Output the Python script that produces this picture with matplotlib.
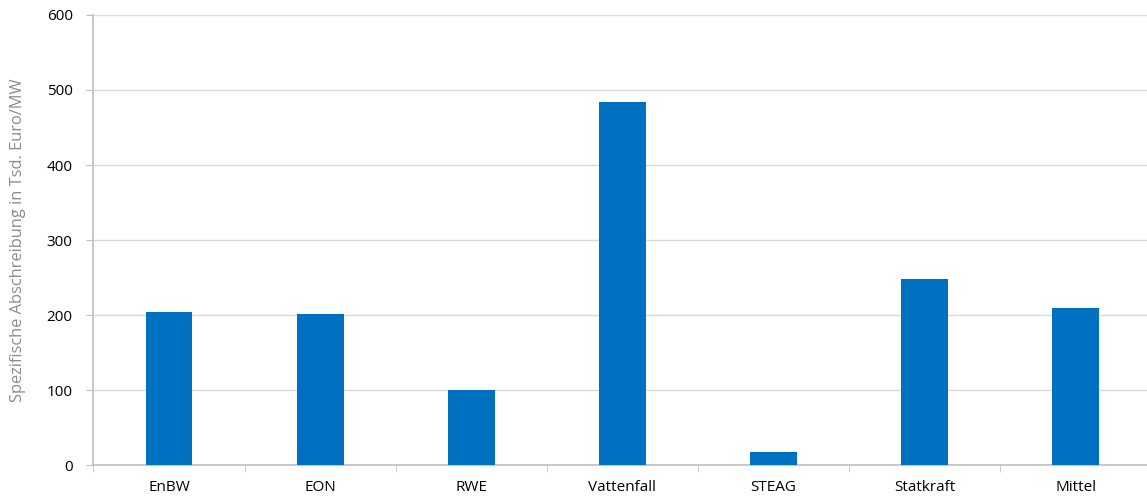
import numpy as np
from matplotlib import pyplot as plt

# values
companies = ["EnBW", "EON", "RWE", "Vattenfall", "STEAG", "Statkraft", "Mittel"]
abschreibung = [204, 202, 100, 484, 18, 248, 209]
y_ticks = [0, 100, 200, 300, 400, 500, 600]

plt.rcParams["font.family"] = ["Open Sans", "DejaVu Sans"]

fig = plt.figure(figsize=(11.47, 4.99), dpi=100)
ax = fig.add_axes([0.0815, 0.068, 0.9224, 0.902])

x = np.arange(len(companies))
ax.bar(x, abschreibung, width=0.31, color="#0070c0", zorder=3)

ax.set_xlim(-0.5, len(companies) - 0.5)
ax.set_ylim(0, 600)
ax.set_yticks(y_ticks)
ax.set_yticklabels([str(v) for v in y_ticks], fontsize=11)
ax.set_xticks(x)
ax.set_xticklabels(companies, fontsize=11)
ax.set_xticks(np.arange(len(companies) + 1) - 0.5, minor=True)

ax.grid(axis="y", color="#d9d9d9", linewidth=1, zorder=0)
for side in ["top", "right"]:
    ax.spines[side].set_visible(False)
for side in ["left", "bottom"]:
    ax.spines[side].set_color("#bfbfbf")
    ax.spines[side].set_linewidth(1.2)

ax.tick_params(axis="x", which="major", length=0, pad=11)
ax.tick_params(axis="x", which="minor", length=5, color="#bfbfbf", direction="out")
ax.tick_params(axis="y", length=5, color="#bfbfbf", pad=10)

ax.set_ylabel("Spezifische Abschreibung in Tsd. Euro/MW", fontsize=11.8,
              color="#8c8c8c")
ax.yaxis.set_label_coords(-0.064, 0.5)

fig.savefig("out.png", dpi=100)
